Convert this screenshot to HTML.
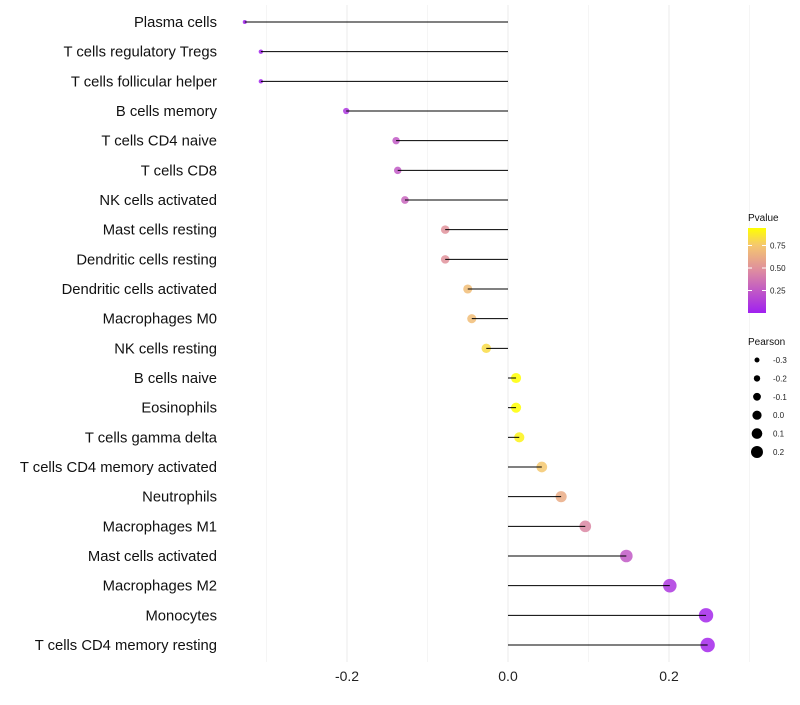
<!DOCTYPE html>
<html><head><meta charset="utf-8"><style>
body{margin:0;background:#fff;font-family:"Liberation Sans",sans-serif}
</style></head><body>
<svg id="chart" width="800" height="700" xmlns="http://www.w3.org/2000/svg"></svg>
<script>
const categories=["Plasma cells","T cells regulatory  Tregs","T cells follicular helper","B cells memory","T cells CD4 naive","T cells CD8","NK cells activated","Mast cells resting","Dendritic cells resting","Dendritic cells activated","Macrophages M0","NK cells resting","B cells naive","Eosinophils","T cells gamma delta","T cells CD4 memory activated","Neutrophils","Macrophages M1","Mast cells activated","Macrophages M2","Monocytes","T cells CD4 memory resting"];
const pearson=[-0.327,-0.307,-0.307,-0.201,-0.139,-0.137,-0.128,-0.078,-0.078,-0.050,-0.045,-0.027,0.010,0.010,0.014,0.042,0.066,0.096,0.147,0.201,0.246,0.248];
const pvalue=[0.01,0.02,0.02,0.1,0.25,0.25,0.3,0.5,0.5,0.7,0.7,0.82,0.94,0.94,0.9,0.75,0.62,0.45,0.25,0.1,0.03,0.03];
const xTicks=[-0.2,0.0,0.2];
const xTickLabels=["-0.2","0.0","0.2"];
const colorTicks=[0.25,0.5,0.75];
const sizeLegend=[-0.3,-0.2,-0.1,0.0,0.1,0.2];
const NS="http://www.w3.org/2000/svg";
const svg=document.getElementById('chart');
function x(v){return 508+v*805;}
function y(i){return 22+i*(623/21);}
function r(v){return 2+(v+0.33)*9;}
const stops=[[0,[160,32,240]],[0.5,[222,140,160]],[0.8,[245,200,110]],[1,[255,255,0]]];
function col(p){const t=Math.max(0,Math.min(1,p/0.94));
 for(let k=1;k<stops.length;k++){if(t<=stops[k][0]){const a=stops[k-1],b=stops[k];const u=(t-a[0])/(b[0]-a[0]);
  return `rgb(${a[1].map((c,j)=>Math.round(c+(b[1][j]-c)*u)).join(',')})`;}}
 return 'rgb(255,255,0)';}
function el(t,at,txt){const e=document.createElementNS(NS,t);for(const k in at)e.setAttribute(k,at[k]);if(txt!==undefined)e.textContent=txt;svg.appendChild(e);return e;}
[-0.3,-0.2,-0.1,0,0.1,0.2,0.3].forEach(v=>{const g=el('line',{x1:x(v),x2:x(v),y1:5,y2:662,stroke:'#ebebeb','stroke-width':(Math.round(v*10)%2===0)?1:0.5});

});
xTicks.forEach((v,i)=>{const t=el('text',{x:x(v),y:681,'text-anchor':'middle','font-size':14,fill:'#222'},xTickLabels[i]);

});
categories.forEach((c,i)=>{
 const t=el('text',{x:217,y:y(i)+5,'text-anchor':'end','font-size':14.8,fill:'#111'},c);
 
 
 const d=el('circle',{cx:x(pearson[i]),cy:y(i),r:r(pearson[i]),fill:col(pvalue[i]),'fill-opacity':0.85});
 
 
 const l=el('line',{x1:x(0),x2:x(pearson[i]),y1:y(i),y2:y(i),stroke:'#000','stroke-width':1});
 
 
});
const defs=el('defs',{});
const lg=document.createElementNS(NS,'linearGradient');lg.setAttribute('id','pg');lg.setAttribute('x1',0);lg.setAttribute('x2',0);lg.setAttribute('y1',1);lg.setAttribute('y2',0);
stops.forEach(s=>{const st=document.createElementNS(NS,'stop');st.setAttribute('offset',s[0]);st.setAttribute('stop-color',`rgb(${s[1].join(',')})`);lg.appendChild(st);});
defs.appendChild(lg);
const lt=el('text',{x:748,y:221,'font-size':10,fill:'#111'},'Pvalue');


const cb=el('rect',{x:748,y:228,width:18,height:85,fill:'url(#pg)'});


colorTicks.forEach(v=>{const yy=313-v*90;
 el('line',{x1:748,x2:752,y1:yy,y2:yy,stroke:'#fff'});el('line',{x1:762,x2:766,y1:yy,y2:yy,stroke:'#fff'});
 const t=el('text',{x:770,y:yy+3,'font-size':8,fill:'#222'},v.toFixed(2));
 
 });
const st2=el('text',{x:748,y:345,'font-size':10,fill:'#111'},'Pearson');


sizeLegend.forEach((v,i)=>{const yy=360+i*18.4;
 const c=el('circle',{cx:757,cy:yy,r:2.5+(v+0.3)*7,fill:'#000'});
 
 
 const t=el('text',{x:773,y:yy+3,'font-size':8,fill:'#222'},v.toFixed(1));
 
 });
</script>
</body></html>
